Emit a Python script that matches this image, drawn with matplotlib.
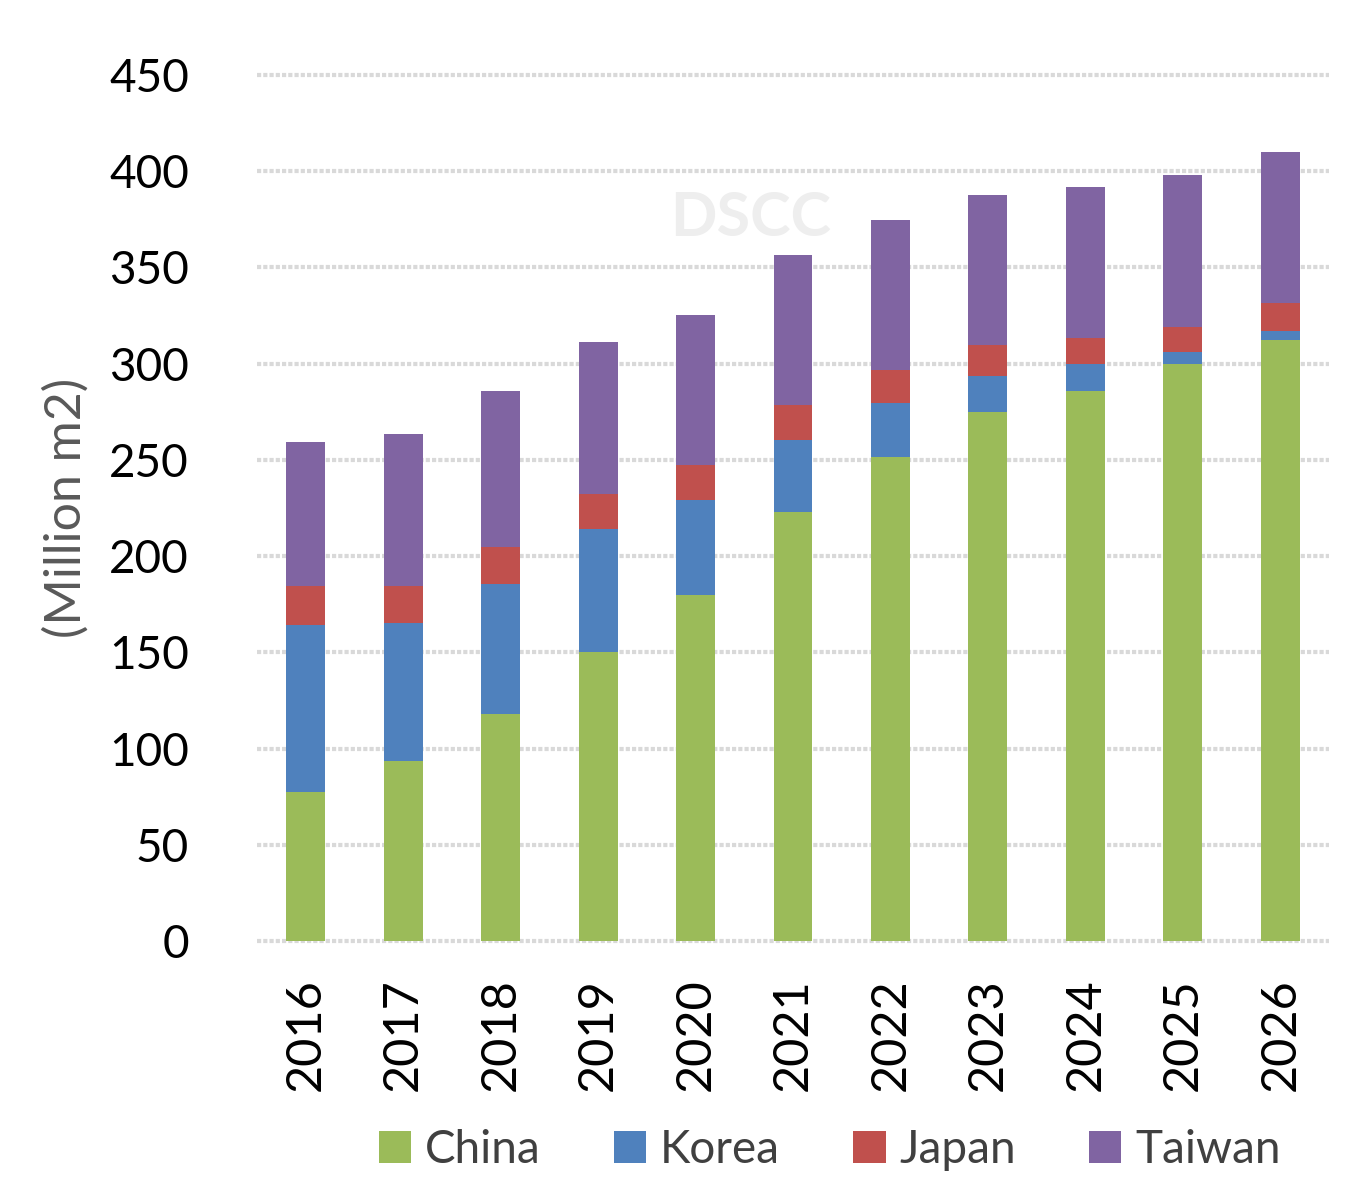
import matplotlib
matplotlib.use("Agg")
import matplotlib.pyplot as plt
import numpy as np

years = ["2016", "2017", "2018", "2019", "2020", "2021", "2022", "2023", "2024", "2025", "2026"]
china = [77.4, 93.6, 118.0, 150.2, 179.8, 223.0, 251.6, 275.0, 285.9, 299.9, 312.4]
korea = [86.8, 71.7, 67.6, 63.9, 49.4, 37.4, 28.0, 18.7, 14.0, 6.2, 4.6]
japan = [20.3, 19.2, 19.2, 18.2, 18.2, 18.2, 17.2, 16.1, 13.5, 13.0, 14.6]
taiwan = [74.8, 79.0, 81.1, 79.0, 78.0, 77.9, 77.9, 77.9, 78.5, 79.0, 78.5]

series = [("China", china, "#9BBB59"), ("Korea", korea, "#4F81BD"),
          ("Japan", japan, "#C0504D"), ("Taiwan", taiwan, "#8064A2")]

plt.rcParams['font.family'] = ['Lato', 'DejaVu Sans']

fig = plt.figure(figsize=(13.69, 12.03), dpi=100)
ax = fig.add_axes([257/1369, 1-941/1203, (1329-257)/1369, (941-75)/1203])

x = np.arange(len(years))
bottom = np.zeros(len(years))
for name, vals, col in series:
    ax.bar(x, vals, bottom=bottom, width=0.4, color=col, label=name, zorder=3)
    bottom += np.array(vals)

ax.set_xlim(-0.5, len(years) - 0.5)
ax.set_ylim(0, 450)
ax.set_yticks(np.arange(0, 451, 50))
ax.yaxis.grid(True, color="#d9d9d9", linewidth=3, linestyle=(0, (1, 0.5)), zorder=0)
for gl in ax.get_ygridlines():
    gl.set_clip_on(False)
ax.set_axisbelow(True)
for s in ax.spines.values():
    s.set_visible(False)
ax.tick_params(axis='both', length=0)
ax.tick_params(axis='y', labelsize=33, pad=49, labelcolor='black')
ax.set_xticks(x)
ax.set_xticklabels(years, rotation=90, fontsize=35)
ax.tick_params(axis='x', pad=27)
ax.set_ylabel("(Million m2)", fontsize=36, color="#595959", labelpad=14)

ax.text(0.46, 0.835, "DSCC", transform=ax.transAxes, fontsize=44, color="#eeeeee",
        ha="center", va="center", fontweight="bold", zorder=1)

leg = fig.legend(loc="center", bbox_to_anchor=(830/1369, 1-1150/1203), ncol=4,
                 frameon=False, fontsize=33, handlelength=0.7, handleheight=0.7,
                 columnspacing=1.6, handletextpad=0.3)
for t in leg.get_texts():
    t.set_color("#404040")

fig.savefig("out.png", dpi=100)
